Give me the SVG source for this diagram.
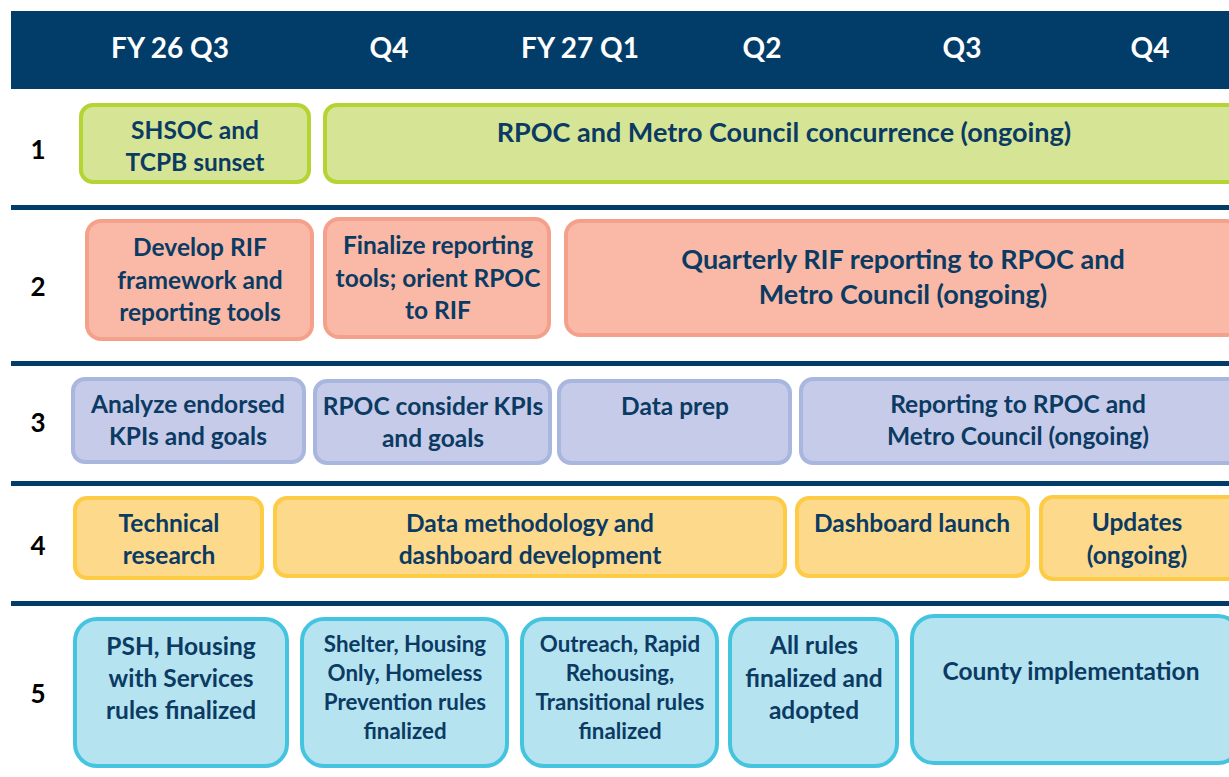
<svg xmlns="http://www.w3.org/2000/svg" width="1229" height="777" viewBox="0 0 1229 777">
<style>
text{font-family:Lato,"Open Sans","Liberation Sans",sans-serif;font-weight:bold;text-anchor:middle;fill:#0B3A63;}
.hd{fill:#FFFFFF;font-size:28px;}
.lbl{fill:#000000;font-size:26px;}
.t{font-size:24.5px;}
.big{font-size:27px;}
.sm{font-size:22.3px;}
.sep{fill:#023D69;}
.g1 rect{fill:#D6E595;stroke:#B4D433;stroke-width:4;}
.g2 rect{fill:#F9B9A6;stroke:#F4A18C;stroke-width:4;}
.g3 rect{fill:#C5CBE8;stroke:#A9B7DF;stroke-width:4;}
.g4 rect{fill:#FDD98B;stroke:#FECB45;stroke-width:4;}
.g5 rect{fill:#B5E3F0;stroke:#45C4E0;stroke-width:4;}
</style>
<rect width="1229" height="777" fill="#FFFFFF"/>
<g id="header">
<rect x="11" y="11" width="1218" height="78" fill="#023D69"/>
<text class="hd" x="170" y="58">FY 26 Q3</text>
<text class="hd" x="389" y="58">Q4</text>
<text class="hd" x="580" y="58">FY 27 Q1</text>
<text class="hd" x="762" y="58">Q2</text>
<text class="hd" x="962" y="58">Q3</text>
<text class="hd" x="1150" y="58">Q4</text>
</g>
<g id="separators">
<rect class="sep" x="11" y="205" width="1218" height="5"/>
<rect class="sep" x="11" y="361" width="1218" height="5"/>
<rect class="sep" x="11" y="481" width="1218" height="5"/>
<rect class="sep" x="11" y="601" width="1218" height="5"/>
</g>
<g id="row-labels">
<text class="lbl" x="38" y="159">1</text>
<text class="lbl" x="38" y="296">2</text>
<text class="lbl" x="38" y="432">3</text>
<text class="lbl" x="38" y="555">4</text>
<text class="lbl" x="38" y="703">5</text>
</g>
<g id="connectors"></g>
<g id="row1" class="g1">
<g id="n1a"><rect x="81" y="105" width="228" height="77" rx="12"/><text class="t" x="195" y="139">SHSOC and</text><text class="t" x="195" y="171">TCPB sunset</text></g>
<g id="n1b"><rect x="325" y="105" width="915" height="77" rx="12"/><text class="big" x="784" y="142">RPOC and Metro Council concurrence (ongoing)</text></g>
</g>
<g id="row2" class="g2">
<g id="n2a"><rect x="87" y="221" width="225" height="118" rx="14"/><text class="t" x="200" y="256">Develop RIF</text><text class="t" x="200" y="289">framework and</text><text class="t" x="200" y="321">reporting tools</text></g>
<g id="n2b"><rect x="325" y="219" width="224" height="118" rx="14"/><text class="t" x="438" y="254">Finalize reporting</text><text class="t" x="438" y="287">tools; orient RPOC</text><text class="t" x="438" y="319">to RIF</text></g>
<g id="n2c"><rect x="566" y="221" width="674" height="114" rx="14"/><text class="big" x="903" y="269">Quarterly RIF reporting to RPOC and</text><text class="big" x="903" y="304">Metro Council (ongoing)</text></g>
</g>
<g id="row3" class="g3">
<g id="n3a"><rect x="73" y="379" width="231" height="83" rx="12"/><text class="t" x="188" y="413">Analyze endorsed</text><text class="t" x="188" y="445">KPIs and goals</text></g>
<g id="n3b"><rect x="315" y="381" width="235" height="82" rx="12"/><text class="t" x="433" y="415">RPOC consider KPIs</text><text class="t" x="433" y="447">and goals</text></g>
<g id="n3c"><rect x="559" y="381" width="231" height="82" rx="12"/><text class="t" x="675" y="415">Data prep</text></g>
<g id="n3d"><rect x="801" y="379" width="439" height="84" rx="12"/><text class="t" x="1018" y="413">Reporting to RPOC and</text><text class="t" x="1018" y="445">Metro Council (ongoing)</text></g>
</g>
<g id="row4" class="g4">
<g id="n4a"><rect x="75" y="498" width="187" height="80" rx="12"/><text class="t" x="169" y="532">Technical</text><text class="t" x="169" y="564">research</text></g>
<g id="n4b"><rect x="275" y="498" width="510" height="78" rx="12"/><text class="t" x="530" y="532">Data methodology and</text><text class="t" x="530" y="564">dashboard development</text></g>
<g id="n4c"><rect x="797" y="498" width="231" height="78" rx="12"/><text class="t" x="912" y="532">Dashboard launch</text></g>
<g id="n4d"><rect x="1041" y="497" width="199" height="82" rx="12"/><text class="t" x="1137" y="531">Updates</text><text class="t" x="1137" y="564">(ongoing)</text></g>
</g>
<g id="row5" class="g5">
<g id="n5a"><rect x="75" y="619" width="212" height="147" rx="22"/><text class="t" x="181" y="655">PSH, Housing</text><text class="t" x="181" y="687">with Services</text><text class="t" x="181" y="719">rules finalized</text></g>
<g id="n5b"><rect x="302" y="619" width="205" height="147" rx="22"/><text class="sm" x="405" y="652">Shelter, Housing</text><text class="sm" x="405" y="681">Only, Homeless</text><text class="sm" x="405" y="710">Prevention rules</text><text class="sm" x="405" y="739">finalized</text></g>
<g id="n5c"><rect x="522" y="619" width="195" height="147" rx="22"/><text class="sm" x="620" y="652">Outreach, Rapid</text><text class="sm" x="620" y="681">Rehousing,</text><text class="sm" x="620" y="710">Transitional rules</text><text class="sm" x="620" y="739">finalized</text></g>
<g id="n5d"><rect x="730" y="619" width="167" height="147" rx="22"/><text class="t" x="814" y="654">All rules</text><text class="t" x="814" y="687">finalized and</text><text class="t" x="814" y="719">adopted</text></g>
<g id="n5e"><rect x="912" y="616" width="328" height="147" rx="22"/><text class="t" x="1071" y="680">County implementation</text></g>
</g>
</svg>
